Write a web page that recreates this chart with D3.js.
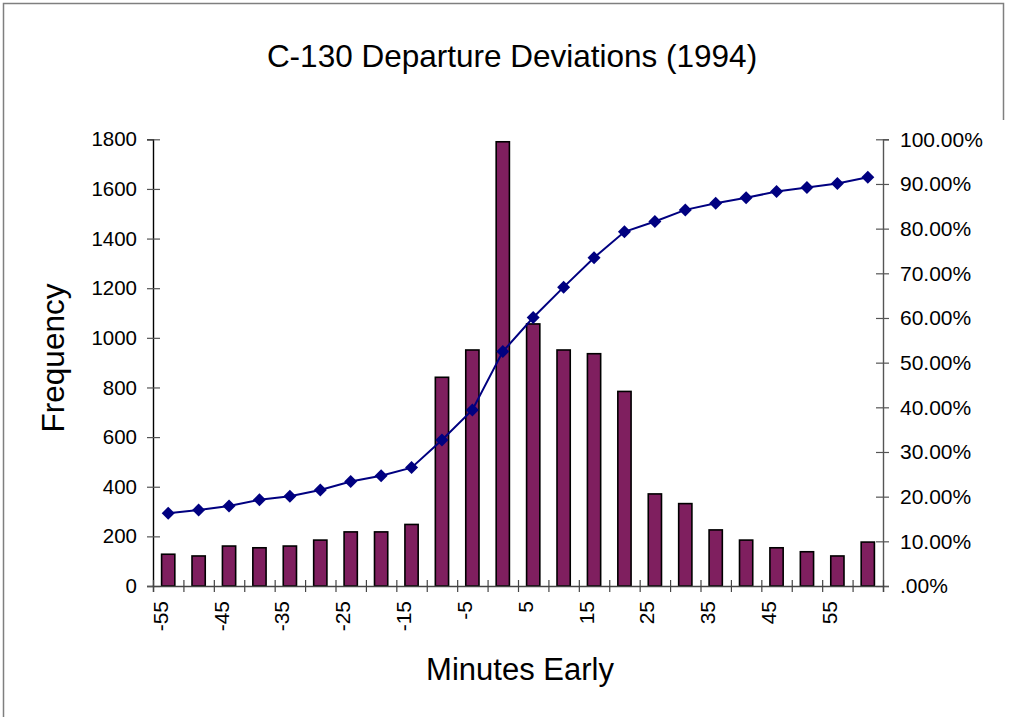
<!DOCTYPE html>
<html>
<head>
<meta charset="utf-8">
<script src="https://cdn.jsdelivr.net/npm/d3@7/dist/d3.min.js"></script>
<style>
  html, body { margin: 0; padding: 0; background: #fff; }
  svg { display: block; font-family: "Liberation Sans", Arial, sans-serif; }
</style>
</head>
<body>
<svg id="chart" width="1010" height="717"></svg>
<script>
const categories = [-55,-50,-45,-40,-35,-30,-25,-20,-15,-10,-5,0,5,10,15,20,25,30,35,40,45,50,55,60];
const frequency  = [128,121,161,154,161,185,218,218,248,841,951,1790,1056,951,936,784,371,332,226,185,154,138,121,177];
const cumulativePct = [16.3,17.0,17.9,19.3,20.1,21.5,23.4,24.7,26.5,32.7,39.4,52.5,60.1,66.9,73.5,79.3,81.6,84.2,85.7,86.9,88.3,89.2,90.1,91.5];
const leftTicks  = [0,200,400,600,800,1000,1200,1400,1600,1800];
const rightTicks = [0,10,20,30,40,50,60,70,80,90,100];
const xTickLabels = [-55,-45,-35,-25,-15,-5,5,15,25,35,45,55];

const svg = d3.select("#chart");
const plot = {left: 153, right: 883, top: 139.3, bottom: 586};

// frame
svg.append("path")
  .attr("d", "M3.5,717 L3.5,3.5 L1003.5,3.5 L1003.5,120")
  .attr("fill", "none").attr("stroke", "#7f7f7f").attr("stroke-width", 1.5);

const x = d3.scaleBand().domain(categories).range([plot.left, plot.right]).padding(0);
const xIdx = d3.scaleLinear().domain([0, categories.length]).range([plot.left, plot.right]);
const yL = d3.scaleLinear().domain([0, 1800]).range([plot.bottom, plot.top]);
const yR = d3.scaleLinear().domain([0, 100]).range([plot.bottom, plot.top]);

// title
svg.append("text").attr("x", 512).attr("y", 67).attr("text-anchor", "middle")
  .attr("font-size", 31.5).attr("fill", "#000").text("C-130 Departure Deviations (1994)");

// bars
const barW = x.bandwidth() * 0.435;
svg.append("g").selectAll("rect").data(categories).join("rect")
  .attr("x", (d) => x(d) + (x.bandwidth() - barW) / 2)
  .attr("y", (d, i) => yL(frequency[i]))
  .attr("width", barW)
  .attr("height", (d, i) => plot.bottom - yL(frequency[i]))
  .attr("fill", "#7f1f5f").attr("stroke", "#000").attr("stroke-width", 1.6);

// left axis
const gL = svg.append("g").attr("transform", `translate(${plot.left},0)`)
  .call(d3.axisLeft(yL).tickValues(leftTicks).tickSize(6).tickFormat(d3.format("d")));
gL.select(".domain").attr("stroke", "#000").attr("stroke-width", 1.4);
gL.selectAll(".tick line").attr("x1", 7).attr("x2", -6).attr("stroke", "#555").attr("stroke-width", 1.2);
gL.selectAll(".tick text").attr("x", -16).attr("font-size", 20.5).attr("font-family", "Liberation Sans, Arial, sans-serif").attr("fill", "#000");

// right axis
const gR = svg.append("g").attr("transform", `translate(${plot.right},0)`)
  .call(d3.axisRight(yR).tickValues(rightTicks).tickSize(6)
    .tickFormat((v) => v === 0 ? ".00%" : v.toFixed(2) + "%"));
gR.select(".domain").attr("stroke", "#555").attr("stroke-width", 1.4);
gR.selectAll(".tick line").attr("x1", -7).attr("x2", 6).attr("stroke", "#555").attr("stroke-width", 1.2);
gR.selectAll(".tick text").attr("x", 17).attr("font-size", 21).attr("font-family", "Liberation Sans, Arial, sans-serif").attr("fill", "#000");

// x axis
const gX = svg.append("g").attr("transform", `translate(0,${plot.bottom})`)
  .call(d3.axisBottom(xIdx).tickValues(d3.range(categories.length + 1)).tickSize(6).tickFormat(""));
gX.select(".domain").attr("stroke", "#444").attr("stroke-width", 1.4);
gX.selectAll(".tick line").attr("y1", -6).attr("y2", 6).attr("stroke", "#444").attr("stroke-width", 1.2);

svg.append("g").selectAll("text").data(xTickLabels).join("text")
  .attr("transform", (d) => `translate(${x(d) + x.bandwidth() / 2 - 0.5},601) rotate(-90)`)
  .attr("text-anchor", "end").attr("font-size", 21).attr("fill", "#000")
  .text((d) => d);

// cumulative line
const line = d3.line().x((d) => x(d) + x.bandwidth() / 2).y((d, i) => yR(cumulativePct[i]));
svg.append("path").datum(categories).attr("d", line)
  .attr("fill", "none").attr("stroke", "#000080").attr("stroke-width", 2);
svg.append("g").selectAll("path").data(categories).join("path")
  .attr("transform", (d, i) => `translate(${x(d) + x.bandwidth() / 2},${yR(cumulativePct[i])})`)
  .attr("d", "M0,-6.5 L6.5,0 L0,6.5 L-6.5,0 Z")
  .attr("fill", "#000080");

// axis titles
svg.append("text").attr("transform", "translate(64,358) rotate(-90)")
  .attr("text-anchor", "middle").attr("font-size", 31.5).attr("fill", "#000").text("Frequency");
svg.append("text").attr("x", 520).attr("y", 680).attr("text-anchor", "middle")
  .attr("font-size", 31).attr("fill", "#000").text("Minutes Early");
</script>
</body>
</html>
